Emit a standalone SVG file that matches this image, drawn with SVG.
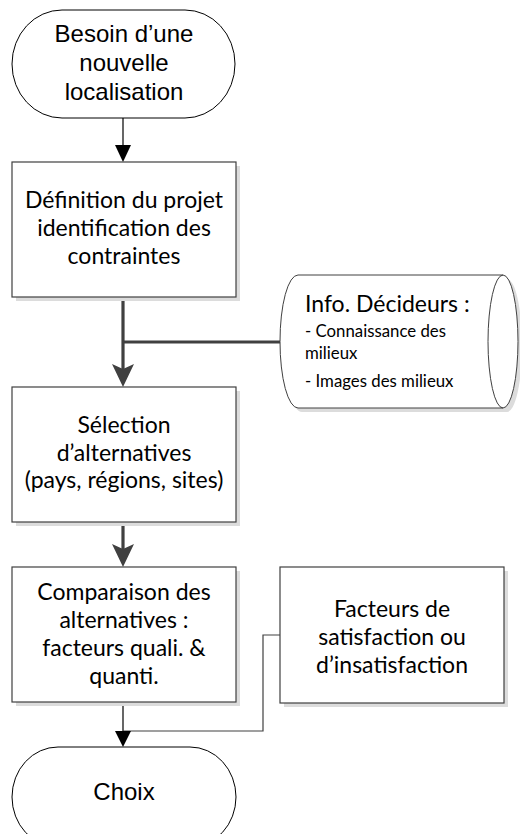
<svg xmlns="http://www.w3.org/2000/svg" width="520" height="834" viewBox="0 0 520 834">
<style>
.term{fill:#fff;stroke:#000;stroke-width:1}
.box{fill:#fff;stroke:#404040;stroke-width:1.2}
.shadow{fill:#dcdcdc;stroke:none}
.arial{font-family:"Liberation Sans",Arial,sans-serif;font-size:24px;fill:#000;text-anchor:middle}
.cal{font-family:Lato,"Liberation Sans",sans-serif;font-size:23px;fill:#000;text-anchor:middle}
.calL{font-family:Lato,"Liberation Sans",sans-serif;fill:#000;text-anchor:start}
.thick{fill:none;stroke:#404040;stroke-width:3.2}
.thin{fill:none;stroke:#000;stroke-width:1.2}
.thinG{fill:none;stroke:#404040;stroke-width:1.2}
</style>
<rect width="520" height="834" fill="#fff"/>
<g id="connectors">
<line class="thin" x1="123" y1="118" x2="123" y2="146"/>
<polygon points="115,145 131,145 123,162" fill="#000"/>
<line class="thick" x1="123" y1="297" x2="123" y2="372"/>
<line class="thick" x1="123" y1="342" x2="281" y2="342"/>
<polygon points="112,364 123,369 134,364 123,387" fill="#404040"/>
<line class="thick" x1="123" y1="523" x2="123" y2="552"/>
<polygon points="112,544 123,549 134,544 123,567" fill="#404040"/>
<line class="thin" x1="123" y1="702" x2="123" y2="732"/>
<polyline class="thinG" points="281,635 263,635 263,731 123,731"/>
<polygon points="115,731 131,731 123,747" fill="#000"/>
</g>
<g id="start">
<path class="term" d="M62,10 H185 A50,54 0 0 1 185,118 H62 A50,54 0 0 1 62,10 Z"/>
<text class="arial" x="124" y="42">Besoin d’une</text>
<text class="arial" x="124" y="71">nouvelle</text>
<text class="arial" x="124" y="100">localisation</text>
</g>
<g id="definition">
<rect class="shadow" x="16" y="166" width="224" height="135"/>
<rect class="box" x="12" y="162" width="224" height="135"/>
<text class="cal" x="124" y="208">Définition du projet</text>
<text class="cal" x="124" y="236">identification des</text>
<text class="cal" x="124" y="264">contraintes</text>
</g>
<g id="info">
<path class="shadow" d="M302,279 A18,66.5 0 0 0 302,412 H507 A15,66.5 0 0 0 507,279 Z"/>
<path d="M298,275 A18,66.5 0 0 0 298,408 H503 A15,66.5 0 0 0 503,275 Z" fill="#fff" stroke="#404040" stroke-width="1"/>
<path d="M503,275 A15,66.5 0 0 0 503,408" fill="none" stroke="#404040" stroke-width="1"/>
<text class="calL" x="305" y="312" font-size="23">Info. Décideurs :</text>
<text class="calL" x="305" y="337" font-size="16.8">- Connaissance des</text>
<text class="calL" x="305" y="359" font-size="16.8">milieux</text>
<text class="calL" x="305" y="387" font-size="16.8">- Images des milieux</text>
</g>
<g id="selection">
<rect class="shadow" x="16" y="391" width="224" height="135"/>
<rect class="box" x="12" y="387" width="224" height="135"/>
<text class="cal" x="124" y="433">Sélection</text>
<text class="cal" x="124" y="461">d’alternatives</text>
<text class="cal" x="124" y="488">(pays, régions, sites)</text>
</g>
<g id="comparaison">
<rect class="shadow" x="16" y="571" width="224" height="135"/>
<rect class="box" x="12" y="567" width="224" height="135"/>
<text class="cal" x="124" y="600">Comparaison des</text>
<text class="cal" x="124" y="628">alternatives :</text>
<text class="cal" x="124" y="656">facteurs quali. &amp;</text>
<text class="cal" x="124" y="684">quanti.</text>
</g>
<g id="facteurs">
<rect class="shadow" x="284" y="571" width="224" height="136"/>
<rect class="box" x="280" y="567" width="224" height="136"/>
<text class="cal" x="392" y="617">Facteurs de</text>
<text class="cal" x="392" y="645">satisfaction ou</text>
<text class="cal" x="392" y="673">d’insatisfaction</text>
</g>
<g id="choix">
<path class="term" d="M58,747 H190 A46,50 0 0 1 190,847 H58 A46,50 0 0 1 58,747 Z"/>
<text class="arial" x="124" y="800">Choix</text>
</g>
</svg>
